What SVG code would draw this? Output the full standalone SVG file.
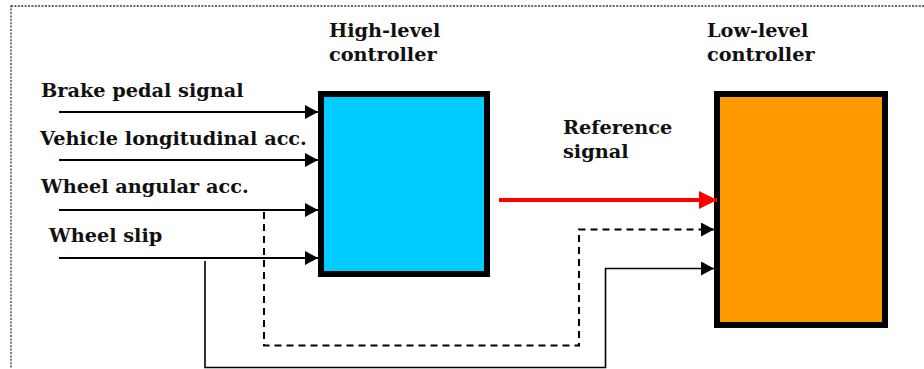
<svg xmlns="http://www.w3.org/2000/svg" width="924" height="369" viewBox="0 0 924 369">
<style>
  .t { font-family: "DejaVu Serif", "Liberation Serif", serif; font-weight: bold; font-size: 19.3px; fill: #111; }
  .in { stroke: #000; stroke-width: 2; fill: none; }
  .box { stroke: #000; stroke-width: 6; }
</style>
<defs>
  <marker id="ah" markerUnits="userSpaceOnUse" markerWidth="14" markerHeight="14" refX="13" refY="7" orient="auto">
    <path d="M0,0 L13,7 L0,14 Z" fill="#000"/>
  </marker>
  <marker id="ahr" markerUnits="userSpaceOnUse" markerWidth="19" markerHeight="18" refX="18" refY="9" orient="auto">
    <path d="M0,0 L18,9 L0,18 Z" fill="#ff0000"/>
  </marker>
</defs>
<rect x="11" y="6" width="1000" height="500" fill="none" stroke="#333" stroke-width="1.3" stroke-dasharray="2 1.4"/>
<g id="high-level">
  <rect class="box" x="321" y="94" width="166" height="180" fill="#00ccff"/>
  <text class="t" x="329" y="37">High-level</text>
  <text class="t" x="329" y="61">controller</text>
</g>
<g id="low-level">
  <rect class="box" x="717" y="94" width="168" height="231" fill="#ff9900"/>
  <text class="t" x="707" y="37">Low-level</text>
  <text class="t" x="707" y="61">controller</text>
</g>
<g id="labels">
  <text class="t" x="41" y="97">Brake pedal signal</text>
  <text class="t" x="40" y="145">Vehicle longitudinal acc.</text>
  <text class="t" x="41" y="193">Wheel angular acc.</text>
  <text class="t" x="49" y="242">Wheel slip</text>
  <text class="t" x="563" y="134">Reference</text>
  <text class="t" x="563" y="158">signal</text>
</g>
<g id="connectors">
  <line class="in" x1="59" y1="112" x2="318" y2="112" marker-end="url(#ah)"/>
  <line class="in" x1="59" y1="160" x2="318" y2="160" marker-end="url(#ah)"/>
  <line class="in" x1="59" y1="210" x2="318" y2="210" marker-end="url(#ah)"/>
  <line class="in" x1="59" y1="258" x2="318" y2="258" marker-end="url(#ah)"/>
  <line x1="499" y1="200" x2="717" y2="200" stroke="#ff0000" stroke-width="4" marker-end="url(#ahr)"/>
  <path d="M264,212 V345.5 H579 V229.5 H714" fill="none" stroke="#000" stroke-width="2" stroke-dasharray="7 5" marker-end="url(#ah)"/>
  <path d="M205,261 V367.5 H605.5 V268.5 H714" fill="none" stroke="#000" stroke-width="1.6" marker-end="url(#ah)"/>
</g>
</svg>
